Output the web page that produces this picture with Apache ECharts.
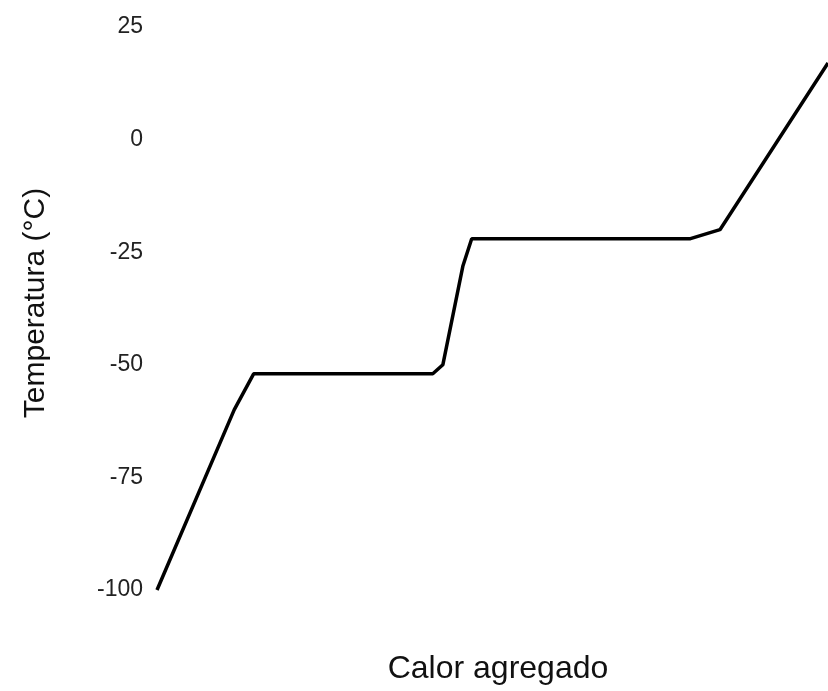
<!DOCTYPE html>
<html>
<head>
<meta charset="utf-8">
<script src="https://cdn.jsdelivr.net/npm/echarts@6/dist/echarts.min.js"></script>
<style>
html,body{margin:0;padding:0;background:#fff;}
#chart{width:828px;height:691px;}
</style>
</head>
<body>
<div id="chart"></div>
<script>
// Heat added (arbitrary units, 0..100) and temperature (°C)
const heatAdded = [0, 11.5, 14.4, 41.1, 42.6, 45.6, 46.9, 79.5, 83.9, 100];
const temperature = [-100, -60, -52, -52, -50, -28, -22, -22, -20, 17];
const yTicks = [-100, -75, -50, -25, 0, 25];
const yAxisTitle = 'Temperatura (°C)';
const xAxisTitle = 'Calor agregado';

const FONT = 'Liberation Sans, Arial, Helvetica, sans-serif';
const points = heatAdded.map((x, i) => [x, temperature[i]]);
const chart = echarts.init(document.getElementById('chart'));
chart.setOption({
  animation: false,
  grid: {left: 157, right: 0, top: 27, bottom: 101, containLabel: false, outerBoundsMode: 'none'},
  xAxis: {
    type: 'value', min: 0, max: 100,
    name: xAxisTitle, nameLocation: 'middle', nameGap: 63,
    nameTextStyle: {fontFamily: FONT, fontSize: 32, color: '#111', padding: [0, 0, 0, 11]},
    axisLine: {show: false}, axisTick: {show: false}, axisLabel: {show: false}, splitLine: {show: false}
  },
  yAxis: {
    type: 'value', min: yTicks[0], max: yTicks[yTicks.length - 1], interval: 25,
    name: yAxisTitle, nameLocation: 'middle', nameGap: 106,
    nameTextStyle: {fontFamily: FONT, fontSize: 30, color: '#111', padding: [0, 0, 0, 11]},
    axisLine: {show: false}, axisTick: {show: false}, splitLine: {show: false},
    axisLabel: {margin: 14, fontFamily: FONT, fontSize: 23, color: '#222', padding: [4, 0, 0, 0]}
  },
  series: [{
    type: 'line', data: points, symbol: 'none',
    lineStyle: {color: '#000', width: 3.5}, clip: false
  }]
});
</script>
</body>
</html>
